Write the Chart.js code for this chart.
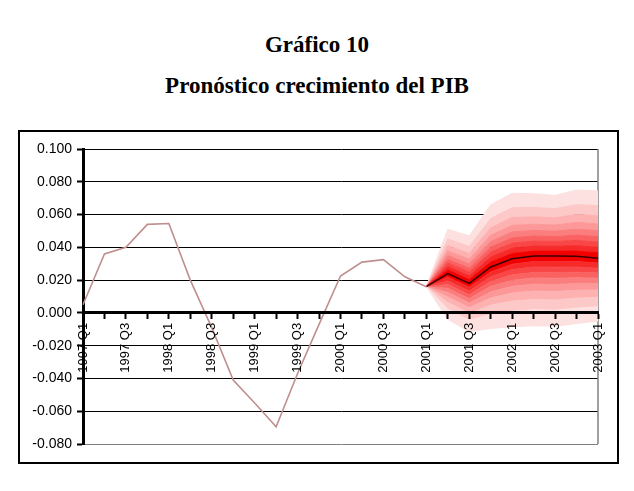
<!DOCTYPE html>
<html lang="es">
<head>
  <meta charset="UTF-8">
  <title>Pronóstico crecimiento del PIB</title>
  <script src="https://cdn.jsdelivr.net/npm/chart.js"></script>
  <style>
    body { margin: 0; background: #fff; width: 634px; height: 491px; position: relative; overflow: hidden; }
    .title {
      position: absolute; left: 0; width: 634px; text-align: center;
      font-family: "Liberation Serif", "Times New Roman", serif;
      font-weight: bold; font-size: 23px; line-height: 23px; color: #000;
    }
    .frame {
      position: absolute; left: 18px; top: 130px; width: 601px; height: 334px;
      border: 2px solid #000; box-sizing: border-box;
    }
    .chart-box { position: absolute; left: 0; top: 130px; width: 634px; height: 340px; }
  </style>
</head>
<body>
  <div class="title" style="top:33px">Gráfico 10</div>
  <div class="title" style="top:74px">Pronóstico crecimiento del PIB</div>
  <div class="frame"></div>
  <div class="chart-box"><canvas id="pibChart"></canvas></div>

  <script>
    // quarters 1997 Q1 .. 2003 Q1
    const quarters = [
      '1997 Q1', '1997 Q2', '1997 Q3', '1997 Q4',
      '1998 Q1', '1998 Q2', '1998 Q3', '1998 Q4',
      '1999 Q1', '1999 Q2', '1999 Q3', '1999 Q4',
      '2000 Q1', '2000 Q2', '2000 Q3', '2000 Q4',
      '2001 Q1', '2001 Q2', '2001 Q3', '2001 Q4',
      '2002 Q1', '2002 Q2', '2002 Q3', '2002 Q4',
      '2003 Q1'
    ];

    // observed growth, 1997 Q1 .. 2001 Q1
    const history = [0.005, 0.036, 0.040, 0.054, 0.0545, 0.020, -0.009, -0.041, -0.055,
                     -0.0695, -0.037, -0.007, 0.0225, 0.031, 0.0325, 0.022, 0.016];

    // forecast, 2001 Q1 .. 2003 Q1
    const forecast = [0.016, 0.024, 0.018, 0.028, 0.033, 0.0347, 0.0347, 0.0345, 0.0334];

    // fan band edges, inner (1) to outer (9), 2001 Q1 .. 2003 Q1
    const up1 = [0.016, 0.0262, 0.0203, 0.0310, 0.0362, 0.0377, 0.0377, 0.0377, 0.0367];
    const up2 = [0.016, 0.0283, 0.0226, 0.0341, 0.0394, 0.0408, 0.0406, 0.0410, 0.0400];
    const up3 = [0.016, 0.0305, 0.0250, 0.0371, 0.0426, 0.0438, 0.0436, 0.0442, 0.0432];
    const up4 = [0.016, 0.0326, 0.0273, 0.0402, 0.0458, 0.0469, 0.0465, 0.0475, 0.0465];
    const up5 = [0.016, 0.0351, 0.0299, 0.0436, 0.0494, 0.0503, 0.0499, 0.0511, 0.0502];
    const up6 = [0.016, 0.0378, 0.0328, 0.0474, 0.0534, 0.0541, 0.0536, 0.0552, 0.0543];
    const up7 = [0.016, 0.0410, 0.0363, 0.0519, 0.0582, 0.0586, 0.0580, 0.0600, 0.0592];
    const up8 = [0.016, 0.0451, 0.0406, 0.0576, 0.0642, 0.0643, 0.0636, 0.0661, 0.0654];
    const up9 = [0.016, 0.0510, 0.0470, 0.0660, 0.0730, 0.0727, 0.0717, 0.0750, 0.0744];
    const lo1 = [0.016, 0.0218, 0.0157, 0.0250, 0.0297, 0.0313, 0.0313, 0.0313, 0.0304];
    const lo2 = [0.016, 0.0195, 0.0134, 0.0221, 0.0264, 0.0280, 0.0279, 0.0280, 0.0273];
    const lo3 = [0.016, 0.0173, 0.0110, 0.0191, 0.0232, 0.0246, 0.0245, 0.0248, 0.0243];
    const lo4 = [0.016, 0.0150, 0.0087, 0.0162, 0.0199, 0.0213, 0.0211, 0.0215, 0.0212];
    const lo5 = [0.016, 0.0125, 0.0061, 0.0128, 0.0162, 0.0175, 0.0173, 0.0179, 0.0178];
    const lo6 = [0.016, 0.0097, 0.0032, 0.0091, 0.0121, 0.0133, 0.0130, 0.0138, 0.0140];
    const lo7 = [0.016, 0.0064, -0.0003, 0.0047, 0.0072, 0.0082, 0.0079, 0.0090, 0.0095];
    const lo8 = [0.016, 0.0022, -0.0046, -0.0009, 0.0010, 0.0019, 0.0016, 0.0029, 0.0038];
    const lo9 = [0.016, -0.0040, -0.0115, -0.0095, -0.0085, -0.0078, -0.0082, -0.0065, -0.0050];

    const bandColors = ['#f20000', '#f72a2a', '#f94646', '#fa6262', '#fb7e7e',
                        '#fc9898', '#fdb1b1', '#fdc8c8', '#fde0e0'];

    const yMin = -0.08, yMax = 0.1, yStep = 0.02;

    // forecast arrays start at 2001 Q1
    const start = quarters.indexOf('2001 Q1');
    const pad = arr => Array(start).fill(null).concat(arr);

    const lows = [lo9, lo8, lo7, lo6, lo5, lo4, lo3, lo2, lo1];
    const ups = [up1, up2, up3, up4, up5, up6, up7, up8, up9];

    // each band is filled to the dataset before it; a thin stroke in the
    // band colour hides the seams between neighbouring fills
    const bandSets = [];
    lows.forEach((arr, i) => {
      const col = bandColors[i === 0 ? 8 : 9 - i];
      bandSets.push({
        data: pad(arr),
        borderWidth: 1,
        borderColor: col,
        pointRadius: 0,
        fill: i === 0 ? false : '-1',
        backgroundColor: i === 0 ? 'transparent' : col,
        order: 2
      });
    });
    ups.forEach((arr, i) => {
      bandSets.push({
        data: pad(arr),
        borderWidth: 1,
        borderColor: bandColors[i],
        pointRadius: 0,
        fill: '-1',
        backgroundColor: bandColors[i],
        order: 2
      });
    });

    const plotBorder = {
      id: 'plotBorder',
      beforeDatasetsDraw(chart) {
        const a = chart.chartArea, ctx = chart.ctx;
        ctx.save();
        ctx.strokeStyle = '#808080';
        ctx.lineWidth = 1.5;
        ctx.beginPath();
        ctx.moveTo(a.right, a.top);
        ctx.lineTo(a.right, a.bottom);
        ctx.stroke();
        ctx.restore();
      }
    };

    new Chart(document.getElementById('pibChart'), {
      type: 'line',
      data: {
        labels: quarters,
        datasets: [
          {
            data: history,
            borderColor: '#bf8f8f',
            borderWidth: 1.6,
            pointRadius: 0,
            fill: false,
            order: 0
          },
          {
            data: pad(forecast),
            borderColor: '#3a0000',
            borderWidth: 1.5,
            pointRadius: 0,
            fill: false,
            order: 0
          },
          ...bandSets
        ]
      },
      options: {
        responsive: true,
        maintainAspectRatio: false,
        animation: false,
        layout: { padding: { left: 18, right: 36, top: 19, bottom: 26 } },
        plugins: { legend: { display: false }, tooltip: { enabled: false } },
        elements: { line: { tension: 0 } },
        scales: {
          x: {
            position: { y: 0 },
            offset: false,
            grid: { z: 1, drawOnChartArea: false, drawTicks: true, tickLength: 5, tickColor: '#000', tickWidth: 2 },
            border: { z: 1, display: true, color: '#000', width: 3 },
            ticks: {
              z: 1,
              autoSkip: false,
              minRotation: 90,
              maxRotation: 90,
              padding: 5,
              color: '#000',
              font: { family: '"Liberation Sans", Arial, sans-serif', size: 13 },
              callback: (v, i) => (i % 2 === 0 ? quarters[i] : '')
            }
          },
          y: {
            min: yMin,
            max: yMax,
            afterFit: scale => { scale.width = 65; },
            grid: {
              color: ctx => (ctx.tick && Math.abs(ctx.tick.value - yMin) < 1e-9 ? '#808080' : '#000'),
              lineWidth: 1,
              drawTicks: true,
              tickLength: 6,
              tickColor: '#000',
              tickWidth: 2
            },
            border: { display: true, color: '#000', width: 3 },
            ticks: {
              stepSize: yStep,
              padding: 5,
              color: '#000',
              font: { family: '"Liberation Sans", Arial, sans-serif', size: 14 },
              callback: v => v.toFixed(3)
            }
          }
        }
      },
      plugins: [plotBorder]
    });
  </script>
</body>
</html>
